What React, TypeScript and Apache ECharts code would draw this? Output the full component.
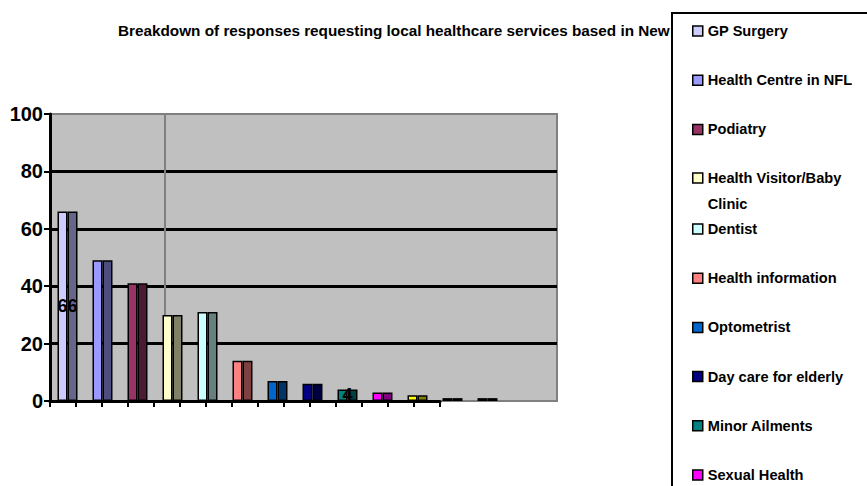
import React, { useEffect, useRef } from "react";
import * as echarts from "echarts";

const titleText = "Breakdown of responses requesting local healthcare services based in New";
const categories = [
  "GP Surgery",
  "Health Centre in NFL",
  "Podiatry",
  "Health Visitor/Baby\nClinic",
  "Dentist",
  "Health information",
  "Optometrist",
  "Day care for elderly",
  "Minor Ailments",
  "Sexual Health",
  "Other 1",
  "Other 2",
  "Other 3",
];
const responses = [66, 49, 41, 30, 31, 14, 7, 6, 4, 3, 2, 1, 1];
const frontColors = ["#CCCCFF", "#9999FF", "#993366", "#FFFFCC", "#CCFFFF", "#FF8080", "#0066CC", "#000080", "#008080", "#FF00FF", "#FFFF00", "#000000", "#000000"];
const sideColors = ["#66668A", "#4D4D80", "#4D1A33", "#808066", "#668080", "#804040", "#003366", "#000040", "#004040", "#800080", "#808000", "#000000", "#000000"];
const labelledCategories = ["GP Surgery", "Minor Ailments"];
const visibleLegendCount = 10;
const tickSlots = ["", "", "", "", "", "", "", "", "", "", "", "", "", "", ""];
const yMin = 0;
const yMax = 100;
const yInterval = 20;

const FONT = "'Liberation Sans', Arial, sans-serif";

export default function App() {
  const ref = useRef<HTMLDivElement>(null);
  useEffect(() => {
    if (!ref.current) return;
    const chart = echarts.init(ref.current, undefined, { renderer: "svg" });

    const series: any[] = [];
    categories.forEach((name, i) => {
      series.push({
        type: "bar",
        name,
        xAxisIndex: 1,
        yAxisIndex: 1,
        stack: "front",
        barWidth: 10,
        barGap: "0%",
        data: categories.map((_, j) =>
          j === i ? { value: responses[i], label: { show: labelledCategories.includes(name) } } : "-"
        ),
        itemStyle: { color: frontColors[i], borderColor: "#000", borderWidth: 1.5 },
        label: {
          show: false,
          position: ["100%", "50%"],
          align: "center",
          verticalAlign: "middle",
          formatter: "{c}",
          fontSize: 18,
          fontWeight: "bold",
          color: "#000",
          fontFamily: FONT,
        },
        z: 3,
      });
    });
    categories.forEach((name, i) => {
      series.push({
        type: "bar",
        name,
        xAxisIndex: 1,
        yAxisIndex: 1,
        stack: "side",
        barWidth: 10,
        barGap: "0%",
        data: categories.map((_, j) => (j === i ? responses[i] : "-")),
        itemStyle: { color: sideColors[i], borderColor: "#000", borderWidth: 1.5 },
        z: 2,
      });
    });

    const legendCommon = {
      orient: "vertical",
      left: 692,
      padding: 0,
      height: 1000,
      itemWidth: 10,
      itemHeight: 10,
      icon: "rect",
      itemGap: 27.2,
      selectedMode: false,
      itemStyle: { borderColor: "#000", borderWidth: 1.5 },
      textStyle: { fontSize: 14.6, fontWeight: "bold", color: "#000", fontFamily: FONT, lineHeight: 22 },
    };

    chart.setOption({
      animation: false,
      title: {
        text: titleText,
        left: 118,
        top: 23,
        padding: 0,
        textStyle: { fontSize: 15.3, fontWeight: "bold", color: "#000", fontFamily: FONT, lineHeight: 15 },
      },
      legend: [
        { ...legendCommon, top: 20, data: categories.slice(0, 3) },
        {
          ...legendCommon,
          top: 139,
          data: categories.slice(3, 4),
          formatter: (n: string) => "\n" + n,
          textStyle: { ...legendCommon.textStyle, lineHeight: 26 },
        },
        { ...legendCommon, top: 218, data: categories.slice(4, visibleLegendCount) },
      ],
      graphic: [
        {
          type: "rect",
          shape: { x: 672, y: 13, width: 240, height: 520 },
          style: { fill: "#fff", stroke: "#000", lineWidth: 2 },
          z: 3,
        },
        {
          type: "line",
          shape: { x1: 165, y1: 114, x2: 165, y2: 401 },
          style: { stroke: "#808080", lineWidth: 2 },
          z: 1,
        },
      ],
      grid: [
        { left: 50, top: 114, width: 507, height: 287, show: true, backgroundColor: "#C0C0C0", borderColor: "#808080", borderWidth: 2 },
        { left: 50, top: 114, width: 455, height: 287, show: false },
        { left: 50, top: 114, width: 390, height: 287, show: false },
      ],
      xAxis: [
        { type: "category", gridIndex: 0, data: tickSlots, show: false },
        { type: "category", gridIndex: 1, data: categories, show: false },
        {
          type: "category",
          gridIndex: 2,
          data: tickSlots,
          boundaryGap: true,
          axisLine: { show: true, lineStyle: { color: "#000", width: 3 } },
          axisTick: { show: true, length: 6, lineStyle: { color: "#000", width: 2 } },
          axisLabel: { show: false },
          splitLine: { show: false },
          z: 4,
        },
      ],
      yAxis: [
        {
          type: "value",
          gridIndex: 0,
          min: yMin,
          max: yMax,
          interval: yInterval,
          axisLine: { show: true, lineStyle: { color: "#000", width: 3 } },
          axisTick: { show: true, length: 6, lineStyle: { color: "#000", width: 2 } },
          axisLabel: { fontSize: 20, fontWeight: "bold", color: "#000", fontFamily: FONT, margin: 7 },
          splitLine: { show: true, showMaxLine: false, showMinLine: false, lineStyle: { color: "#000", width: 3 } },
        },
        { type: "value", gridIndex: 1, min: yMin, max: yMax, interval: yInterval, show: false, splitLine: { show: false } },
        { type: "value", gridIndex: 2, min: yMin, max: yMax, interval: yInterval, show: false, splitLine: { show: false } },
      ],
      series,
    });
    return () => chart.dispose();
  }, []);
  return <div ref={ref} style={{ position: "absolute", left: 0, top: 0, width: 867, height: 486 }} />;
}
